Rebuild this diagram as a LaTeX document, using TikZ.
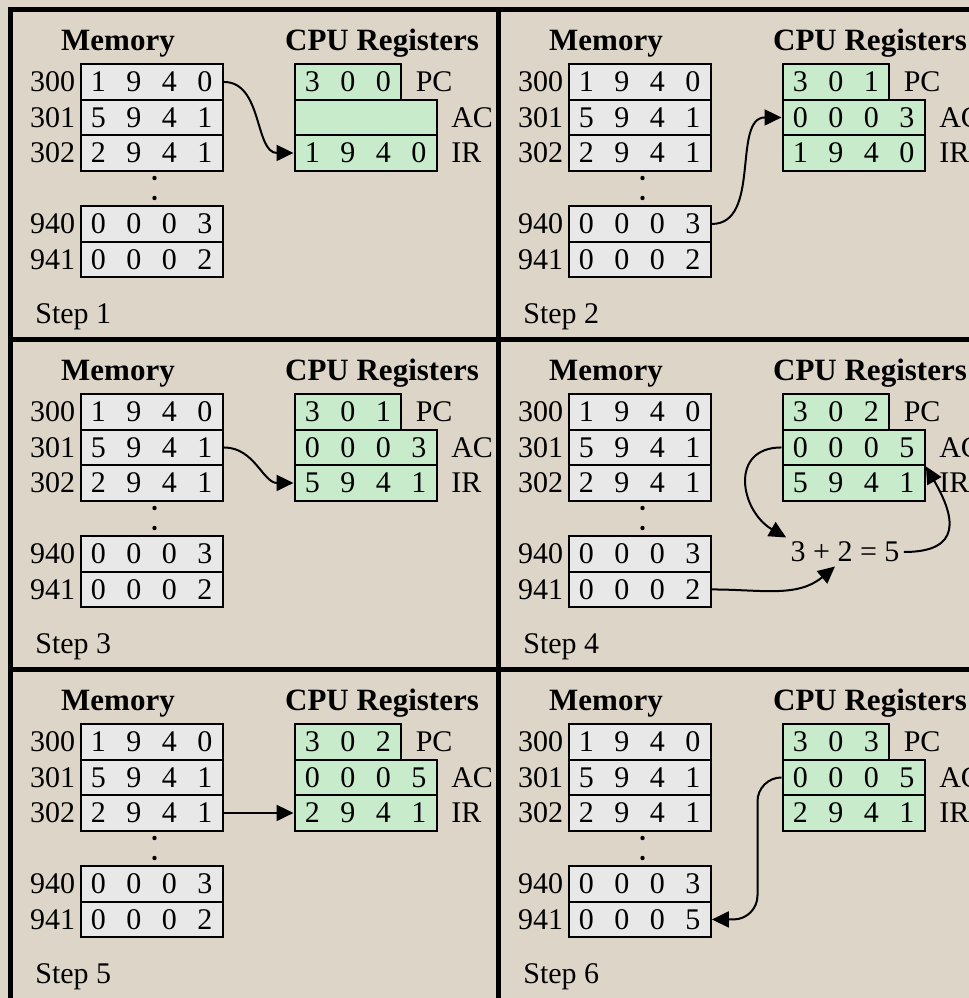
\documentclass[tikz,border=0pt]{standalone}
\usepackage{fontspec}
\setmainfont{Liberation Serif}
\usetikzlibrary{arrows.meta}
\definecolor{paper}{RGB}{221,213,200}
\definecolor{memgray}{RGB}{232,232,232}
\definecolor{reggreen}{RGB}{200,235,204}
\tikzset{
	cell/.style={draw,line width=1.2pt,anchor=north west,inner sep=0pt,minimum height=17.75pt,minimum width=71pt},
	mem/.style={cell,fill=memgray},
	reg/.style={cell,fill=reggreen},
	addr/.style={anchor=east,inner sep=2pt},
	rname/.style={anchor=west,inner sep=0pt,xshift=6.5pt},
	head/.style={anchor=base,font=\fontsize{15.5}{18}\selectfont\bfseries},
	dot/.style={circle,fill,inner sep=0pt,minimum size=2.2pt},
	frame/.style={line width=2.5pt},
	flow/.style={-{Triangle[length=8.5pt,width=8pt]},line width=1pt}
}
\newcommand\dg[1]{\foreach \digit in {#1}{\makebox[17.75pt]{\digit}}}
% one step: prefix, x, y, step, PC, AC, IR, word 941
\newcommand\cpupanel[8]{%
	\begin{scope}[shift={(#2,#3)}]
		\node[head] (#1-memt) at (108,-41) {Memory};
		\node[head] (#1-cput) at (372,-41) {CPU Registers};
		\node[mem] (#1-m300) at (69.5,-54) {\dg{1,9,4,0}};
		\node[mem] (#1-m301) at (69.5,-89.5) {\dg{5,9,4,1}};
		\node[mem] (#1-m302) at (69.5,-125) {\dg{2,9,4,1}};
		\node[mem] (#1-m940) at (69.5,-196) {\dg{0,0,0,3}};
		\node[mem] (#1-m941) at (69.5,-231.5) {\dg{#8}};
		\foreach \a in {300,301,302,940,941}
			\node[addr] (#1-a\a) at (#1-m\a.west) {\a};
		\node[dot] (#1-d1) at (144.5,-169) {};
		\node[dot] (#1-d2) at (144.5,-189) {};
		\node[reg,minimum width=53.25pt] (#1-pc) at (283.5,-54) {\dg{#5}};
		\node[reg] (#1-ac) at (283.5,-89.5) {\dg{#6}};
		\node[reg] (#1-ir) at (283.5,-125) {\dg{#7}};
		\node[rname] (#1-pcl) at (#1-pc.east) {PC};
		\node[rname] (#1-acl) at (#1-ac.east) {AC};
		\node[rname] (#1-irl) at (#1-ir.east) {IR};
		\node[anchor=base west,inner sep=0pt] (#1-step) at (25,-314) {Step #4};
	\end{scope}}

\begin{document}
\begin{tikzpicture}[x=0.5pt,y=0.5pt,font=\fontsize{15}{18}\selectfont]
	\useasboundingbox (0,0) rectangle (969,-998);
	\fill[paper] (0,0) rectangle (969,-998);
	\draw[frame] (10,-9) rectangle (990,-1004);
	\draw[frame] (498,-9) -- (498,-1004);
	\draw[frame] (10,-339) -- (990,-339);
	\draw[frame] (10,-669) -- (990,-669);

	\cpupanel{s1}{10}{-9}{1}{3,0,0}{}{1,9,4,0}{0,0,0,2}
	\cpupanel{s2}{498}{-9}{2}{3,0,1}{0,0,0,3}{1,9,4,0}{0,0,0,2}
	\cpupanel{s3}{10}{-339}{3}{3,0,1}{0,0,0,3}{5,9,4,1}{0,0,0,2}
	\cpupanel{s4}{498}{-339}{4}{3,0,2}{0,0,0,5}{5,9,4,1}{0,0,0,2}
	\cpupanel{s5}{10}{-669}{5}{3,0,2}{0,0,0,5}{2,9,4,1}{0,0,0,2}
	\cpupanel{s6}{498}{-669}{6}{3,0,3}{0,0,0,5}{2,9,4,1}{0,0,0,5}

	\node[inner sep=2pt] (s4-sum) at (845,-552) {3 + 2 = 5};

	\draw[flow] (s1-m300.east) to[out=0,in=180] (s1-ir.west);
	\draw[flow] (s2-m940.east) to[out=0,in=180] (s2-ac.west);
	\draw[flow] (s3-m301.east) to[out=0,in=180] (s3-ir.west);
	\draw[flow] (s4-ac.west) to[out=180,in=150,looseness=1.5] (s4-sum.north west);
	\draw[flow] (s4-m941.east) to[out=0,in=-140] ([xshift=-5pt]s4-sum.south);
	\draw[flow] (s4-sum.east) to[out=0,in=-60,looseness=1.7] (s4-ac.south east);
	\draw[flow] (s5-m302) -- (s5-ir);
	\draw[flow,rounded corners=12pt] (s6-ac.west) -- ++(-24,0) |- (s6-m941.east);
\end{tikzpicture}
\end{document}
